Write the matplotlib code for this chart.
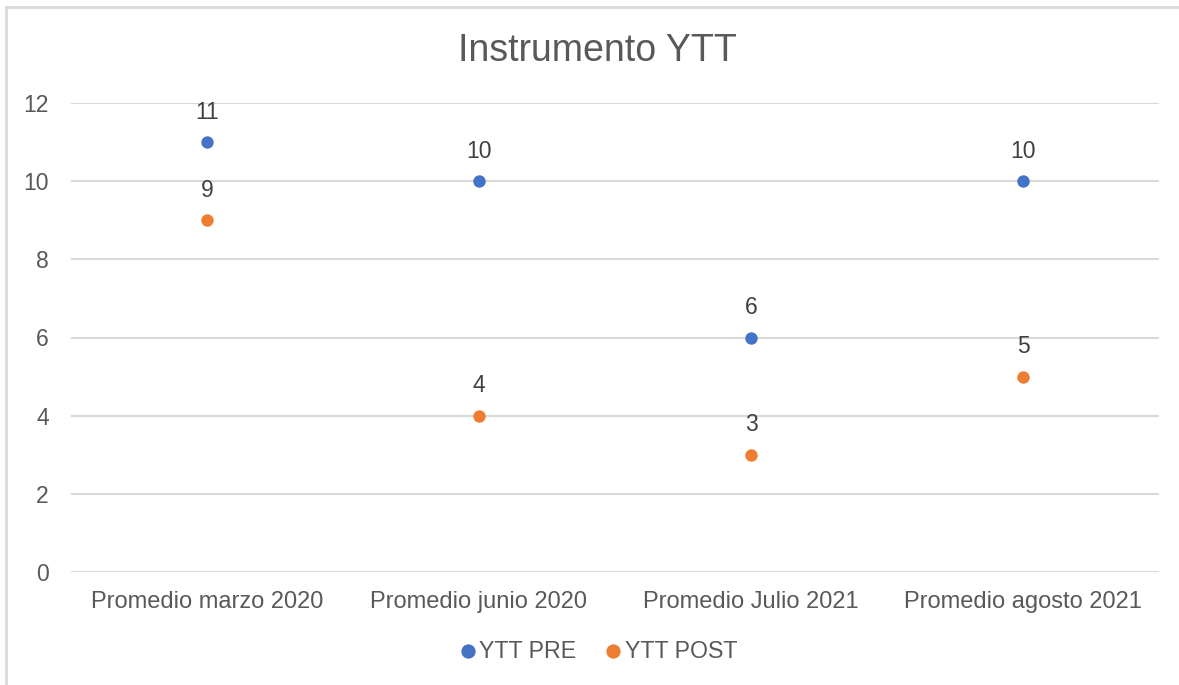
import matplotlib
matplotlib.use("Agg")
import matplotlib.pyplot as plt
from matplotlib.lines import Line2D

categories = ["Promedio marzo 2020", "Promedio junio 2020", "Promedio Julio 2021", "Promedio agosto 2021"]
pre_values = [11, 10, 6, 10]
post_values = [9, 4, 3, 5]
series_names = ["YTT PRE", "YTT POST"]
title = "Instrumento YTT"
yticks = [0, 2, 4, 6, 8, 10, 12]

BLUE = "#4472C4"
ORANGE = "#ED7D31"
TXT = "#595959"
GRID = "#D9D9D9"

plt.rcParams['font.family'] = ['Liberation Sans', 'DejaVu Sans']

W, H = 1179, 685
fig = plt.figure(figsize=(W / 100, H / 100), dpi=100)
# chart-area border (top and left edges visible)
fig.lines.append(Line2D([6 / W, 6 / W], [0, 1 - 7 / H], transform=fig.transFigure,
                        color=GRID, linewidth=2))
fig.lines.append(Line2D([6 / W, 1], [1 - 7 / H, 1 - 7 / H], transform=fig.transFigure,
                        color=GRID, linewidth=2))

left, right = 71 / W, 1159 / W
bottom, top = 1 - 572 / H, 1 - 103 / H
ax = fig.add_axes([left, bottom, right - left, top - bottom])

x = list(range(len(categories)))
ax.scatter(x, pre_values, s=80, color=BLUE, zorder=3, label=series_names[0], linewidths=0)
ax.scatter(x, post_values, s=80, color=ORANGE, zorder=3, label=series_names[1], linewidths=0)

for xi, v in zip(x, pre_values):
    ax.annotate(str(v), (xi, v), xytext=(0, 21.5), textcoords="offset points",
                ha="center", va="center", fontsize=16.5, color="#404040")
for xi, v in zip(x, post_values):
    ax.annotate(str(v), (xi, v), xytext=(0, 21.5), textcoords="offset points",
                ha="center", va="center", fontsize=16.5, color="#404040")

ax.set_xlim(-0.5, len(categories) - 0.5)
ax.set_ylim(0, 12)
ax.set_yticks(yticks)
ax.set_yticklabels([str(t) for t in yticks], fontsize=16.5, color=TXT)
ax.set_xticks(x)
ax.set_xticklabels(categories, fontsize=17, color=TXT)
ax.tick_params(axis="both", length=0)
ax.tick_params(axis="y", pad=16)
ax.tick_params(axis="x", pad=14)
ax.grid(axis="y", color=GRID, linewidth=1.5)
ax.set_axisbelow(True)
for s in ax.spines.values():
    s.set_visible(False)

fig.text(597 / W, 1 - 51 / H, title, ha="center", va="center", fontsize=27, color=TXT)

leg = fig.legend(loc="center", bbox_to_anchor=(591 / W, 1 - 651 / H), ncol=2, frameon=False,
                 fontsize=16.7, handletextpad=-0.5, columnspacing=0.6, markerscale=1.15)
for t in leg.get_texts():
    t.set_color(TXT)

fig.savefig("out.png", dpi=100)
